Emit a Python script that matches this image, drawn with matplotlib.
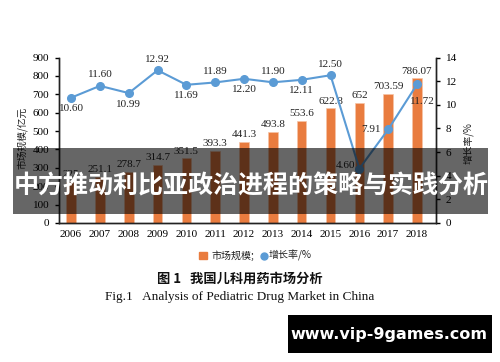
import matplotlib
matplotlib.use("Agg")
import matplotlib.pyplot as plt
from matplotlib.patches import Rectangle
from matplotlib.lines import Line2D

years = ["2006", "2007", "2008", "2009", "2010", "2011", "2012",
         "2013", "2014", "2015", "2016", "2017", "2018"]
market = [225, 251.1, 278.7, 314.7, 351.5, 393.3, 441.3,
          493.8, 553.6, 622.8, 652, 703.59, 786.07]
market_labels = ["225", "251.1", "278.7", "314.7", "351.5", "393.3", "441.3",
                 "493.8", "553.6", "622.8", "652", "703.59", "786.07"]
growth = [10.60, 11.60, 10.99, 12.92, 11.69, 11.89, 12.20,
          11.90, 12.11, 12.50, 4.60, 7.91, 11.72]
growth_labels = ["10.60", "11.60", "10.99", "12.92", "11.69", "11.89", "12.20",
                 "11.90", "12.11", "12.50", "4.60", "7.91", "11.72"]
# label placement for growth values: (dx, dy) in points
growth_offsets = [(0, -8), (0, 8), (0, -8), (0, 8), (0, -8), (0, 8), (0, -8),
                  (0, 8), (0, -8), (0, 8), (-10, 2), (-12, 0), (4, -12)]

ORANGE = "#E97C3F"
BLUE = "#5B9BD5"
SERIF = "Liberation Serif"
CJK = ["Noto Sans CJK SC", "DejaVu Sans"]

fig = plt.figure(figsize=(5, 3.62), dpi=100)
ax = fig.add_axes([59/500, 1-223/362, (436-59)/500, (223-57.5)/362])
ax2 = ax.twinx()

x = list(range(len(years)))
ax.bar(x, market, width=0.33, color=ORANGE, edgecolor="#F6C4A6", linewidth=0.5, zorder=2)
for xi, v, lab in zip(x, market, market_labels):
    ax.annotate(lab, (xi, v), xytext=(0, 2), textcoords="offset points",
                ha="center", va="bottom", fontsize=8, family=SERIF, color="#222222")

ax2.plot(x, growth, color=BLUE, linewidth=1.5, marker="o", markersize=5.5, zorder=3)
for xi, v, lab, (dx, dy) in zip(x, growth, growth_labels, growth_offsets):
    ax2.annotate(lab, (xi, v), xytext=(dx, dy), textcoords="offset points",
                 ha="center", va="center", fontsize=8, family=SERIF, color="#222222")

ax.set_xlim(-0.42, 12.66)
ax.set_ylim(0, 900)
ax2.set_ylim(0, 14)
ax.set_yticks(range(0, 901, 100))
ax2.set_yticks(range(0, 15, 2))
ax.set_xticks(x)
ax.set_xticklabels(years)

for a in (ax, ax2):
    a.spines["top"].set_visible(False)
    for s in ("left", "right", "bottom"):
        a.spines[s].set_linewidth(1.0)
        a.spines[s].set_color("#222222")
    for t in a.get_xticklabels() + a.get_yticklabels():
        t.set_family(SERIF)
        t.set_fontsize(8)
ax.tick_params(axis="y", direction="out", length=3, width=1, pad=4)
ax2.tick_params(axis="y", direction="out", length=3, width=1, pad=4)
ax.tick_params(axis="x", length=0, pad=5)

fig.text(22/500, 1-137.5/362, "市场规模/亿元", rotation=90, ha="center", va="center",
         fontsize=7, family=CJK, color="#222222")
fig.text(468/500, 1-143/362, "增长率/%", rotation=90, ha="center", va="center",
         fontsize=7, family=CJK, color="#222222")

# legend
fig.patches.append(Rectangle((199/500, 1-259/362), 8/500, 7.5/362,
                             transform=fig.transFigure, color=ORANGE, figure=fig))
fig.text(211/500, 1-255.5/362, "市场规模;", ha="left", va="center",
         fontsize=7.2, family=CJK, color="#222222")
fig.add_artist(Line2D([264/500], [1-255.5/362], marker="o", markersize=5,
                      color=BLUE, linestyle="none", transform=fig.transFigure))
fig.text(269/500, 1-255.5/362, "增长率/%", ha="left", va="center",
         fontsize=7.2, family=CJK, color="#222222")

# captions
fig.text(240/500, 1-279/362, "图 1   我国儿科用药市场分析", ha="center", va="center",
         fontsize=9.5, family=CJK, fontweight="bold", color="#111111")
fig.text(240/500, 1-297/362, "Fig.1   Analysis of Pediatric Drug Market in China",
         ha="center", va="center", fontsize=9.5, family=SERIF, color="#111111")

# overlay banner
fig.patches.append(Rectangle((13/500, 1-214/362), 475/500, 66/362,
                             transform=fig.transFigure, facecolor="black", alpha=0.6,
                             edgecolor="none", zorder=10, figure=fig))
fig.text(251/500, 1-186/362, "中方推动利比亚政治进程的策略与实践分析", ha="center",
         va="center", fontsize=18, family=CJK, fontweight="bold", color="white", zorder=11)

# watermark
fig.patches.append(Rectangle((288/500, 1-353/362), 204/500, 38/362,
                             transform=fig.transFigure, facecolor="black",
                             edgecolor="none", zorder=10, figure=fig))
fig.text(389/500, 1-335/362, "www.vip-9games.com", ha="center", va="center",
         fontsize=11.5, family="DejaVu Sans", fontweight="bold", color="white", zorder=11)

fig.savefig("out.png", dpi=100)
